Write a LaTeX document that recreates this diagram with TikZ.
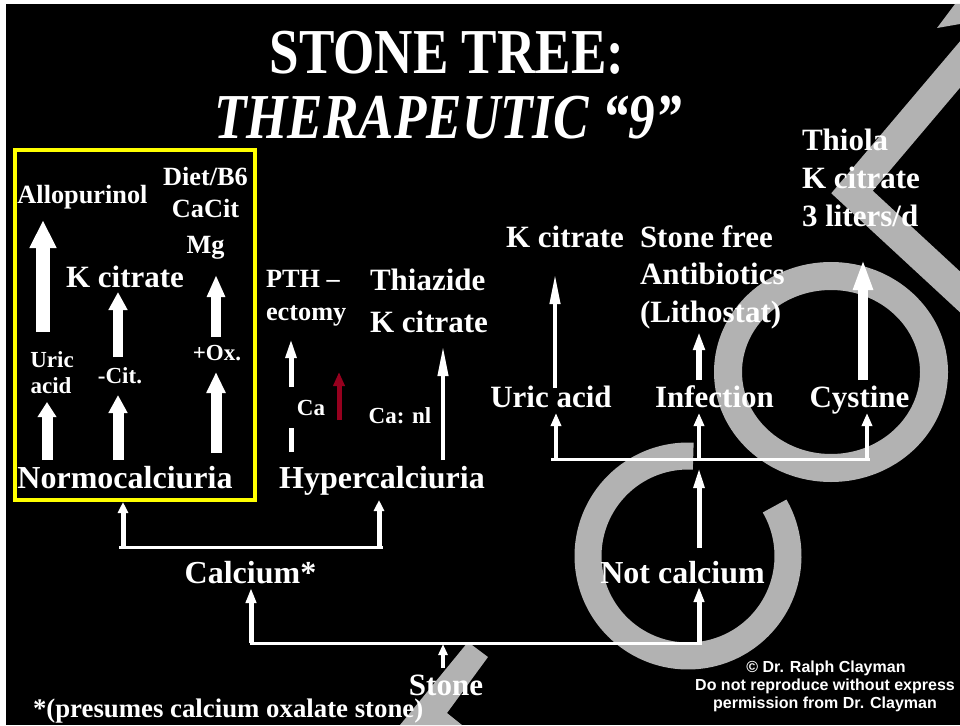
\documentclass[tikz,border=0pt]{standalone}
\usepackage{fontspec}
\setmainfont{Liberation Serif}
\newfontfamily\arialf{Liberation Sans}
\usepackage{graphicx}
\usetikzlibrary{arrows.meta}
\definecolor{wm}{RGB}{178,178,178}
\definecolor{redarr}{RGB}{150,0,30}
\definecolor{ylw}{RGB}{255,255,0}
\tikzset{
  txt/.style={inner sep=0pt, outer sep=0pt, text=white},
  tA/.style={txt, font=\bfseries\fontsize{23}{23}\selectfont},
  tB/.style={txt, font=\bfseries\fontsize{26.3}{26.3}\selectfont},
  tF/.style={txt, font=\bfseries\fontsize{26.8}{26.8}\selectfont},
  tC/.style={txt, font=\bfseries\fontsize{31}{31}\selectfont},
  tD/.style={txt, font=\bfseries\fontsize{32}{32}\selectfont},
  tcopy/.style={txt, font=\arialf\bfseries\fontsize{16}{16}\selectfont},
  arr/.style n args={3}{draw=white, line width=#1pt, -{Triangle[width=#2pt, length=#3pt]}},
  brk/.style={draw=white, line width=3pt},
  wmark/.style={draw=wm},
}
\begin{document}
\begin{tikzpicture}[x=1pt, y=-1pt]
\useasboundingbox (0,0) rectangle (960,725);
\fill[white] (0,0) rectangle (960,725);
\fill[black] (6,4) rectangle (960,725);

% watermark
\begin{scope}
\clip (6,4) rectangle (960,725);
\draw[wmark, line width=27pt] plot[smooth, domain=-87:-390, samples=80] ({688+100*cos(\x)},{556+100*sin(\x)});
\draw[wmark, line width=28pt] (831,372) ellipse [x radius=103, y radius=96];
\draw[wmark, line width=30pt, line join=miter] (985,35) -- (852,192) -- (985,315);
\fill[wm] (937,28) -- (955,4) -- (960,4) -- (960,24) -- cycle;
\fill[wm] (468,642) -- (488,657) -- (447,713) -- (462,725) -- (400,725) -- cycle;
\end{scope}

% title
\node[txt, anchor=base, font=\bfseries\fontsize{64}{64}\selectfont] (title1) at (447,74) {\scalebox{0.83}[1]{STONE TREE:}};
\node[txt, anchor=base, font=\bfseries\itshape\fontsize{64}{64}\selectfont] (title2) at (448,138) {\scalebox{0.83}[1]{THERAPEUTIC “9”}};

% yellow box
\draw[ylw, line width=3.5pt] (15,150) rectangle (255,500);

% box texts
\node[tB, anchor=base] (allo) at (82.5,203) {Allopurinol};
\node[tB, anchor=base] (diet) at (205.5,185) {Diet/B6};
\node[tB, anchor=base] (cacit) at (205.5,217) {CaCit};
\node[tB, anchor=base] (mg) at (205.5,253) {Mg};
\node[tC, anchor=base] (kcitA) at (125,287) {K citrate};
\node[tA, anchor=base] (uricA1) at (52,367) {Uric};
\node[tA, anchor=base] (uricA2) at (51,393) {acid};
\node[tA, anchor=base] (cit) at (120,383) {-Cit.};
\node[tA, anchor=base] (ox) at (217,360) {+Ox.};
\node[tD, anchor=base] (normo) at (125,488) {Normocalciuria};

% hypercalciuria texts
\node[tB, anchor=base west] (pth1) at (266,287) {PTH –};
\node[tB, anchor=base west] (pth2) at (266,320) {ectomy};
\node[tA, anchor=base] (ca) at (311,415) {Ca};
\node[tA, anchor=base] (canl) at (400,423) {Ca: nl};
\node[tC, anchor=base west] (thz) at (370,290) {Thiazide};
\node[tC, anchor=base west] (kcitB) at (370,332) {K citrate};
\node[tD, anchor=base] (hyper) at (382,488) {Hypercalciuria};

% right texts
\node[tC, anchor=base] (kcitC) at (565,247) {K citrate};
\node[tC, anchor=base west] (sf1) at (640,247) {Stone free};
\node[tC, anchor=base west] (sf2) at (640,284) {Antibiotics};
\node[tC, anchor=base west] (sf3) at (640,322) {(Lithostat)};
\node[tC, anchor=base west] (th1) at (802,150) {Thiola};
\node[tC, anchor=base west] (th2) at (802,188) {K citrate};
\node[tC, anchor=base west] (th3) at (802,226) {3 liters/d};
\node[tC, anchor=base] (uricB) at (551,407) {Uric acid};
\node[tC, anchor=base] (inf) at (714.5,407) {Infection};
\node[tC, anchor=base] (cys) at (859.5,407) {Cystine};

% lower texts
\node[tD, anchor=base] (calc) at (250.5,583) {Calcium*};
\node[tD, anchor=base] (notcalc) at (682.5,583) {Not calcium};
\node[tC, anchor=base] (stone) at (446,695) {Stone};
\node[tF, anchor=base west] (foot) at (33,717) {*(presumes calcium oxalate stone)};
\node[tcopy, anchor=base] (cp1) at (826,672) {© Dr. Ralph Clayman};
\node[tcopy, anchor=base] (cp2) at (825,690) {Do not reproduce without express};
\node[tcopy, anchor=base] (cp3) at (825,708) {permission from Dr. Clayman};

% coordinates
\coordinate (a1s) at (43,332);  \coordinate (a1t) at (43,220);
\coordinate (a2s) at (47,460);  \coordinate (a2t) at (47,402);
\coordinate (a3s) at (118,357); \coordinate (a3t) at (118,292);
\coordinate (a4s) at (118,460); \coordinate (a4t) at (118,395);
\coordinate (a5s) at (216,337); \coordinate (a5t) at (216,275);
\coordinate (a6s) at (216,453); \coordinate (a6t) at (216,372);
\coordinate (b1s) at (291,387); \coordinate (b1t) at (291,338);
\coordinate (b2s) at (291,452); \coordinate (b2t) at (291,428);
\coordinate (b3s) at (339,420); \coordinate (b3t) at (339,372);
\coordinate (b4s) at (443,460); \coordinate (b4t) at (443,346);
\coordinate (c1s) at (555,388); \coordinate (c1t) at (555,274);
\coordinate (c2s) at (699,380); \coordinate (c2t) at (699,332);
\coordinate (c3s) at (863,380); \coordinate (c3t) at (863,259);
\coordinate (rbL) at (551,459); \coordinate (rbR) at (870,459);
\coordinate (c4s) at (556,459); \coordinate (c4t) at (556,413);
\coordinate (c5s) at (699,459); \coordinate (c5t) at (699,413);
\coordinate (c6s) at (867,459); \coordinate (c6t) at (867,413);
\coordinate (d1s) at (699,548); \coordinate (d1t) at (699,467);
\coordinate (lbL) at (119,547); \coordinate (lbR) at (383,547);
\coordinate (e1s) at (123,547); \coordinate (e1t) at (123,502);
\coordinate (e2s) at (379,547); \coordinate (e2t) at (379,500);
\coordinate (bbL) at (250,643); \coordinate (bbR) at (702,643);
\coordinate (f1s) at (251,643); \coordinate (f1t) at (251,588);
\coordinate (f2s) at (699,643); \coordinate (f2t) at (699,587);
\coordinate (g1s) at (443,668); \coordinate (g1t) at (443,644);

% arrows in box
\draw[arr={14}{25}{28}] (a1s) -- (a1t);
\draw[arr={11}{18}{15}] (a2s) -- (a2t);
\draw[arr={10}{18}{18}] (a3s) -- (a3t);
\draw[arr={11}{18}{18}] (a4s) -- (a4t);
\draw[arr={10}{17}{22}] (a5s) -- (a5t);
\draw[arr={11}{18}{21}] (a6s) -- (a6t);

% hypercalciuria arrows
\draw[arr={5}{10}{20}] (b1s) -- (b1t);
\draw[draw=white, line width=5pt] (b2s) -- (b2t);
\draw[draw=redarr, line width=5pt, -{Triangle[width=11pt, length=14pt]}] (b3s) -- (b3t);
\draw[arr={4}{10}{30}] (b4s) -- (b4t);

% right arrows
\draw[arr={4}{10}{30}] (c1s) -- (c1t);
\draw[arr={6}{11}{18}] (c2s) -- (c2t);
\draw[arr={10}{18}{31}] (c3s) -- (c3t);
\draw[brk] (rbL) -- (rbR);
\draw[arr={4}{10}{13}] (c4s) -- (c4t);
\draw[arr={4}{10}{13}] (c5s) -- (c5t);
\draw[arr={4}{10}{13}] (c6s) -- (c6t);
\draw[arr={5}{10}{21}] (d1s) -- (d1t);

% lower brackets
\draw[brk] (lbL) -- (lbR);
\draw[arr={5}{10}{11}] (e1s) -- (e1t);
\draw[arr={5}{10}{11}] (e2s) -- (e2t);
\draw[brk] (bbL) -- (bbR);
\draw[arr={5}{10}{15}] (f1s) -- (f1t);
\draw[arr={5}{10}{15}] (f2s) -- (f2t);
\draw[arr={4}{9}{11}] (g1s) -- (g1t);
\end{tikzpicture}
\end{document}
